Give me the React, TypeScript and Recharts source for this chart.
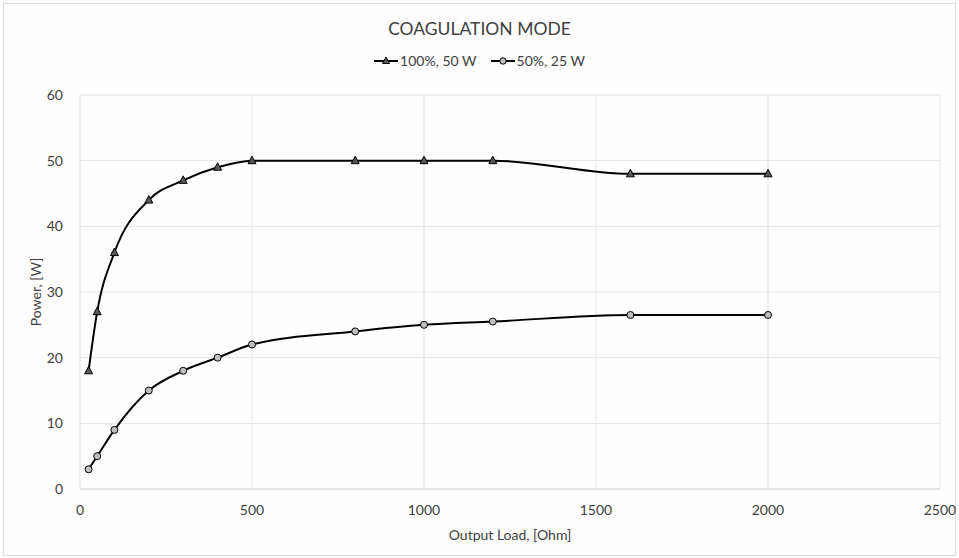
import React from 'react';
import { LineChart, Line, XAxis, YAxis, CartesianGrid, Legend, Label } from 'recharts';

const loads = [25, 50, 100, 200, 300, 400, 500, 800, 1000, 1200, 1600, 2000];
const fullPower = [18, 27, 36, 44, 47, 49, 50, 50, 50, 50, 48, 48];
const halfPower = [3, 5, 9, 15, 18, 20, 22, 24, 25, 25.5, 26.5, 26.5];
const xTicks = [0, 500, 1000, 1500, 2000, 2500];
const yTicks = [0, 10, 20, 30, 40, 50, 60];

const data = loads.map((load, i) => ({ load, full: fullPower[i], half: halfPower[i] }));

const FONT = 'Lato, "Open Sans", sans-serif';

const Triangle = (props: any) => {
  const { cx, cy, index } = props;
  if (cx == null || cy == null) return null;
  return (
    <polygon
      key={`t-${index}`}
      points={`${cx},${cy - 4.5} ${cx + 4},${cy + 3} ${cx - 4},${cy + 3}`}
      fill="#595959"
      stroke="#000"
      strokeWidth={1}
    />
  );
};

const Circle = (props: any) => {
  const { cx, cy, index } = props;
  if (cx == null || cy == null) return null;
  return <circle key={`c-${index}`} cx={cx} cy={cy} r={3.5} fill="#bfbfbf" stroke="#000" strokeWidth={1} />;
};

const LegendContent = () => (
  <div style={{ display: 'flex', justifyContent: 'center', gap: 14, fontFamily: FONT, fontSize: 14, color: '#404040' }}>
    <span style={{ display: 'flex', alignItems: 'center', gap: 2 }}>
      <svg width={24} height={12}>
        <line x1={0} y1={6} x2={24} y2={6} stroke="#000" strokeWidth={2} />
        <polygon points="12,2 15.5,8.5 8.5,8.5" fill="#595959" stroke="#000" />
      </svg>
      100%, 50 W
    </span>
    <span style={{ display: 'flex', alignItems: 'center', gap: 2 }}>
      <svg width={24} height={12}>
        <line x1={0} y1={6} x2={24} y2={6} stroke="#000" strokeWidth={2} />
        <circle cx={12} cy={6} r={3.2} fill="#bfbfbf" stroke="#000" />
      </svg>
      50%, 25 W
    </span>
  </div>
);

export default function App() {
  return (
    <div style={{ position: 'absolute', left: 0, top: 0, width: 959, height: 558, background: '#fff' }}>
      <div style={{ position: 'absolute', left: 3, top: 3, width: 951, height: 551, border: '1px solid #d9d9d9', background: '#fefefe' }} />
      <div style={{ position: 'absolute', left: 0, top: 18, width: 959, textAlign: 'center', fontFamily: FONT, fontSize: 17.5, color: '#404040' }}>
        COAGULATION MODE
      </div>
      <div style={{ position: 'absolute', left: 0, top: 0 }}>
        <LineChart width={959} height={558} data={data} margin={{ top: 78, right: 19, bottom: 29, left: 20 }}>
          <CartesianGrid stroke="#e3e3e3" strokeWidth={1} />
          <Legend verticalAlign="top" content={<LegendContent />} wrapperStyle={{ top: 52, left: 0, width: 959 }} />
          <XAxis
            dataKey="load"
            type="number"
            domain={[0, 2500]}
            ticks={xTicks}
            height={40}
            stroke="#d9d9d9"
            tickLine={false}
            tick={{ fill: '#404040', fontSize: 14, fontFamily: FONT }}
            tickMargin={10}
          >
            <Label value="Output Load, [Ohm]" position="insideBottom" offset={-11} style={{ fill: '#404040', fontSize: 14, fontFamily: FONT }} />
          </XAxis>
          <YAxis
            type="number"
            domain={[0, 60]}
            ticks={yTicks}
            width={60}
            axisLine={false}
            tickLine={false}
            tick={{ fill: '#404040', fontSize: 14, fontFamily: FONT }}
            tickMargin={11}
          >
            <Label value="Power, [W]" angle={-90} position="insideLeft" offset={16} style={{ textAnchor: 'middle', fill: '#404040', fontSize: 14, fontFamily: FONT }} />
          </YAxis>
          <Line type="monotone" dataKey="full" stroke="#000" strokeWidth={2} dot={<Triangle />} activeDot={false} isAnimationActive={false} />
          <Line type="monotone" dataKey="half" stroke="#000" strokeWidth={2} dot={<Circle />} activeDot={false} isAnimationActive={false} />
        </LineChart>
      </div>
    </div>
  );
}
